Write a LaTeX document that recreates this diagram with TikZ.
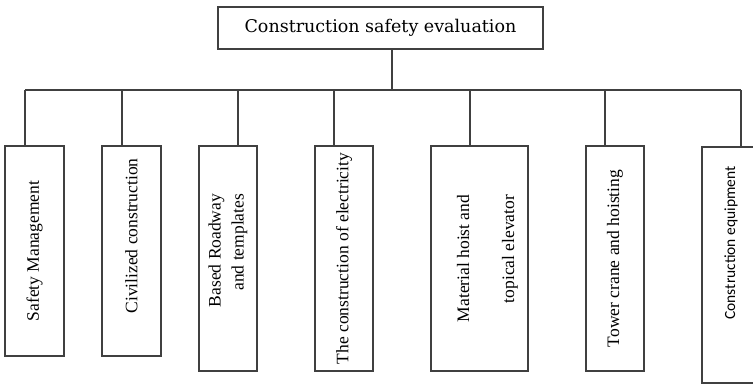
\documentclass[tikz,border=0pt]{standalone}
\usepackage{fontspec}
\setmainfont{Liberation Serif}
\newfontfamily\goalfont{DejaVu Serif}
\newfontfamily\equipfont{Carlito}
\usetikzlibrary{positioning}

\tikzset{
  goalbox/.style={draw=black!75,line width=1.1pt,minimum width=325pt,minimum height=42pt,
    inner sep=0pt,font=\goalfont\fontsize{17.5}{20}\selectfont},
  factorbox/.style={draw=black!75,line width=1.1pt,rotate=90,inner sep=0pt,
    font=\fontsize{17.5}{23}\selectfont,align=right},
  link/.style={black!75,line width=1.1pt},
}

\begin{document}
\begin{tikzpicture}[x=1pt,y=-1pt]
        \useasboundingbox (0,0) rectangle (753,385);
        \clip (0,0) rectangle (753,385);
        % top goal
        \node[goalbox] (goal) at (380.5,28) {Construction safety evaluation};
        % the seven factors
        \node[factorbox,minimum width=210pt,minimum height=59pt] (f1) at (34.5,251) {Safety Management};
        \node[factorbox,minimum width=210pt,minimum height=59pt] (f2) at (131.5,251) {\hspace*{30pt}Civilized construction};
        \node[factorbox,minimum width=225pt,minimum height=58pt] (f3) at (228,258.5) {\hspace*{16pt}Based Roadway\\and templates};
        \node[factorbox,minimum width=225pt,minimum height=58pt] (f4) at (344,258.5) {The construction of electricity};
        \node[factorbox,minimum width=225pt,minimum height=97pt] (f5) at (479.5,258.5) {\rule{0pt}{28pt}Material hoist and\\[22pt]topical elevator};
        \node[factorbox,minimum width=225pt,minimum height=58pt] (f6) at (615,258.5) {Tower crane and hoisting};
        \node[factorbox,minimum width=236pt,minimum height=58pt,font=\equipfont\fontsize{15.5}{18}\selectfont] (f7) at (731,265) {\hspace*{44pt}Construction equipment};
        % bus
        \coordinate (hub) at (392,90);
        \foreach \i/\x in {1/25,2/122,3/238,4/334,5/470,6/605,7/741}
          \coordinate (s\i) at (\x,90);
        \draw[link] (hub |- goal.south) -- (hub);
        \draw[link] (s1) -- (s7);
        \foreach \i in {1,...,7}
          \draw[link] (s\i) -- (s\i |- f\i.east);
      \end{tikzpicture}
\end{document}
